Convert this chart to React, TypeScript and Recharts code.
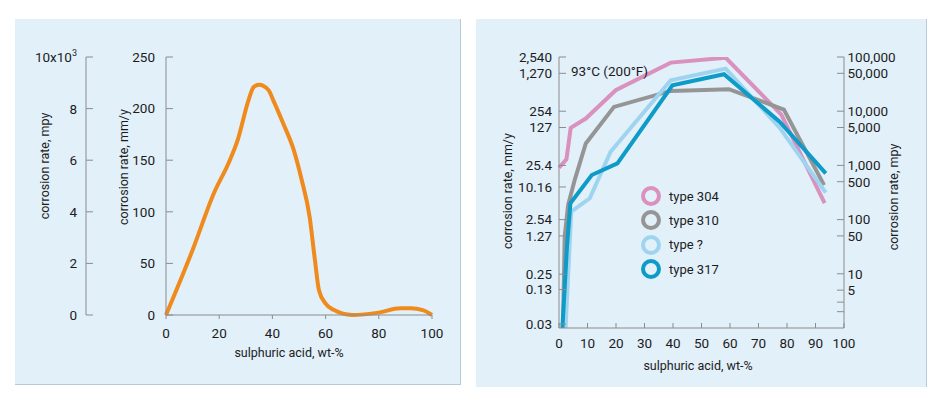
import React from 'react';
import { LineChart, Line, XAxis, YAxis, Legend } from 'recharts';

const FONT = 'Roboto, "Liberation Sans", Arial, sans-serif';
const TEXT = '#1c1c1c';
const AXIS = '#8c8c8c';
const PANEL = '#e2f0fa';
const EDGE = '#b8c9d7';

// left panel: corrosion rate against acid concentration (mm/y)
const acidPct = [0, 10, 18, 24, 27, 31, 33, 35, 38.5, 40.5, 44, 48, 51, 54, 56, 57.5, 60, 63, 70, 80, 88, 92, 96.5, 100];
const rateMmY = [0, 63, 118, 150, 170, 208, 221, 223, 218, 207, 186, 160, 131, 95, 53, 24, 11, 5, 0, 2.3, 6.5, 6.5, 4.8, 0];
const leftXTicks = [0, 20, 40, 60, 80, 100];
const leftMmTicks = [0, 50, 100, 150, 200, 250];
const leftMpyTicks = [0, 2, 4, 6, 8, 10];

// right panel: four steel grades at 93°C, log scale (mm/y)
const x304 = [0, 2.6, 4.1, 9.4, 19.9, 39.2, 58.5, 78, 93.2];
const y304 = [23, 32.7, 125, 186, 619, 2000, 2460, 220, 5.1];
const x310 = [1.4, 2.0, 3.2, 5.5, 9.4, 19.3, 39.2, 59.6, 78.9, 93];
const y310 = [0.0254, 1.24, 4.7, 13.6, 64.5, 305, 602, 646, 273, 11];
const xUnknown = [2.3, 4.3, 10.8, 18.1, 39.2, 58.5, 77.4, 93.6];
const yUnknown = [0.0254, 3.56, 6.28, 45.4, 946, 1549, 126, 7.98];
const x317 = [1.2, 2.8, 4.0, 11.5, 20.5, 39.8, 57.9, 77.4, 93.6];
const y317 = [0.0254, 0.81, 5.07, 16.9, 27.7, 765, 1219, 162, 18.1];

const rightXTicks = [0, 10, 20, 30, 40, 50, 60, 70, 80, 90, 100];
const rightMmTicks = [0.03, 0.13, 0.25, 1.27, 2.54, 10.16, 25.4, 127, 254, 1270, 2540];
const rightMpyTicks = [2, 3, 5, 10, 50, 100, 500, 1000, 5000, 10000, 50000, 100000];
const unlabeledMpy = [2, 3];

const seriesNames = ['type 304', 'type 310', 'type ?', 'type 317'];
const seriesColors = ['#d991bd', '#959595', '#9ed4ef', '#0e9bc8'];

const MPY_PER_MM = 39.37;
const mmDomain = [0.0254, 2540];

const zip = (xs: number[], ys: number[]) => xs.map((x, i) => ({ x, y: ys[i] }));

const leftData = zip(acidPct, rateMmY);
const rightSeries = [zip(x304, y304), zip(x310, y310), zip(xUnknown, yUnknown), zip(x317, y317)];

const tickStyle = { fontSize: 13.5, fill: TEXT, fontFamily: FONT };

const vTitle = (text: string, x: number, y: number) => () => (
  <text x={x} y={y} transform={`rotate(-90, ${x}, ${y})`} textAnchor="middle" dominantBaseline="central"
    fontSize={12.5} fill={TEXT} fontFamily={FONT}>{text}</text>
);
const hTitle = (text: string, x: number, y: number) => () => (
  <text x={x} y={y} textAnchor="middle" dominantBaseline="central" fontSize={12.5} fill={TEXT} fontFamily={FONT}>{text}</text>
);

const renderMpyTick = (props: any) => {
  const { x, y, payload } = props;
  return (
    <text key={`mpy-${payload.value}`} x={x} y={y + 5} textAnchor="end" fontSize={13.5} fill={TEXT} fontFamily={FONT}>
      {payload.value === 10 ? (<>10x10<tspan dy={-6} fontSize={9}>3</tspan></>) : payload.value}
    </text>
  );
};

function LegendRings() {
  return (
    <div style={{ fontFamily: FONT, fontSize: 13, color: TEXT }}>
      {seriesNames.map((name, i) => (
        <div key={name} style={{ display: 'flex', alignItems: 'center', height: 24.3 }}>
          <svg width={22} height={22} style={{ display: 'block' }}>
            <circle cx={11} cy={11} r={8} fill="none" stroke={seriesColors[i]} strokeWidth={4} />
          </svg>
          <span style={{ marginLeft: 7 }}>{name}</span>
        </div>
      ))}
    </div>
  );
}

export default function App() {
  return (
    <div style={{ position: 'absolute', left: 0, top: 0, width: 950, height: 411, background: '#fff' }}>
      <div style={{ position: 'absolute', left: 15, top: 19, width: 445, height: 365, background: PANEL,
        borderRight: `1px solid ${EDGE}`, borderBottom: `1px solid ${EDGE}` }}>
        <LineChart width={445} height={365} data={leftData} margin={{ top: 38, right: 28, bottom: 39, left: 11 }}>
          <XAxis dataKey="x" type="number" domain={[0, 100]} ticks={leftXTicks} height={30} interval={0}
            stroke={AXIS} tick={tickStyle} tickSize={4} tickMargin={9}
            label={hTitle('sulphuric acid, wt-%', 274, 333)} />
          <YAxis yAxisId="mm" type="number" domain={[0, 250]} ticks={leftMmTicks} width={80} interval={0}
            stroke={AXIS} tick={tickStyle} tickSize={-7} tickMargin={18}
            label={vTitle('corrosion rate, mm/y', 108, 148)} />
          <YAxis yAxisId="mpy" type="number" domain={[0, 10]} allowDataOverflow ticks={leftMpyTicks} width={60}
            interval={0} stroke={AXIS} tick={renderMpyTick} tickSize={-7} tickMargin={16}
            label={vTitle('corrosion rate, mpy', 29, 147)} />
          <Line yAxisId="mm" dataKey="y" type="monotone" stroke="#ef8a1d" strokeWidth={4}
            dot={false} isAnimationActive={false} />
        </LineChart>
      </div>

      <div style={{ position: 'absolute', left: 476, top: 19, width: 450, height: 368, background: PANEL,
        borderRight: `1px solid ${EDGE}` }}>
        <LineChart width={450} height={368} margin={{ top: 38, right: 0, bottom: 29, left: 0 }}>
          <XAxis dataKey="x" type="number" domain={[0, 100]} ticks={rightXTicks} height={30} interval={0}
            stroke={AXIS} tick={tickStyle} tickSize={-5} tickMargin={15}
            label={hTitle('sulphuric acid, wt-%', 222, 346)} />
          <YAxis yAxisId="mm" scale="log" domain={mmDomain} allowDataOverflow ticks={rightMmTicks} width={83}
            interval={0} stroke={AXIS} tick={tickStyle} tickSize={-7} tickMargin={14}
            tickFormatter={(v: number) => v.toLocaleString('en-US')}
            label={vTitle('corrosion rate, mm/y', 31, 172)} />
          <YAxis yAxisId="mpy" orientation="right" scale="log" allowDataOverflow interval={0}
            domain={[mmDomain[0] * MPY_PER_MM, mmDomain[1] * MPY_PER_MM]} ticks={rightMpyTicks} width={82}
            stroke={AXIS} tick={tickStyle} tickSize={-7} tickMargin={10.5}
            tickFormatter={(v: number) => (unlabeledMpy.includes(v) ? '' : v.toLocaleString('en-US'))}
            label={vTitle('corrosion rate, mpy', 417, 178)} />
          {rightSeries.map((d, i) => (
            <Line key={seriesNames[i]} data={d} yAxisId="mm" dataKey="y" type="linear" name={seriesNames[i]}
              stroke={seriesColors[i]} strokeWidth={4} dot={false} isAnimationActive={false} />
          ))}
          <Legend layout="vertical" align="center" verticalAlign="middle" content={<LegendRings />}
            wrapperStyle={{ left: 164, top: 165, width: 'auto' }} />
        </LineChart>
        <div style={{ position: 'absolute', left: 95, top: 44, fontFamily: FONT, fontSize: 13.5,
          lineHeight: '17px', color: TEXT }}>93°C (200°F)</div>
      </div>
    </div>
  );
}
